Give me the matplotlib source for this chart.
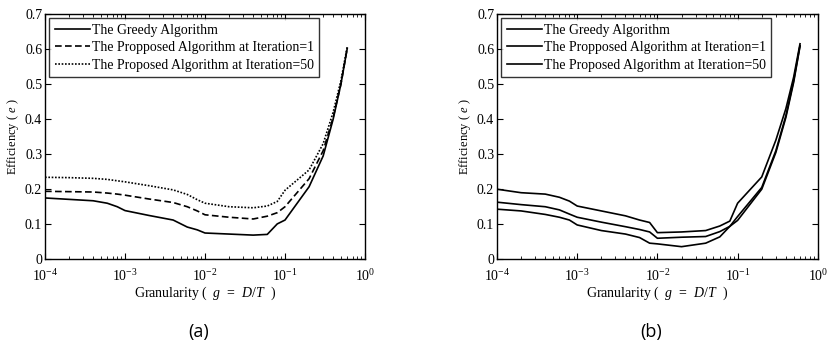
import matplotlib
matplotlib.use("Agg")
import matplotlib.pyplot as plt
from matplotlib.ticker import LogLocator, NullFormatter

plt.rcParams["font.family"] = ["Liberation Serif", "DejaVu Serif"]
plt.rcParams["mathtext.fontset"] = "custom"
plt.rcParams["mathtext.rm"] = "Liberation Serif"
plt.rcParams["mathtext.it"] = "Liberation Serif:italic"

granularity = [1e-4, 2e-4, 4e-4, 6e-4, 8e-4, 1e-3, 2e-3, 4e-3, 6e-3, 8e-3,
               1e-2, 2e-2, 4e-2, 6e-2, 8e-2, 1e-1, 2e-1, 3e-1, 4e-1, 5e-1, 6e-1]

labels = ["The Greedy Algorithm",
          "The Propposed Algorithm at Iteration=1",
          "The Proposed Algorithm at Iteration=50"]

# panel (a)
greedy_a = [0.175, 0.171, 0.167, 0.160, 0.150, 0.139, 0.125, 0.112, 0.092, 0.084, 0.075,
            0.072, 0.069, 0.071, 0.101, 0.112, 0.207, 0.295, 0.400, 0.500, 0.602]
iter1_a = [0.194, 0.193, 0.192, 0.189, 0.186, 0.183, 0.172, 0.162, 0.150, 0.138, 0.127,
           0.120, 0.115, 0.123, 0.133, 0.150, 0.230, 0.310, 0.405, 0.500, 0.603]
iter50_a = [0.234, 0.233, 0.231, 0.228, 0.224, 0.221, 0.210, 0.198, 0.185, 0.170, 0.160,
            0.150, 0.147, 0.152, 0.165, 0.197, 0.255, 0.330, 0.420, 0.510, 0.607]

# panel (b)
greedy_b = [0.143, 0.138, 0.128, 0.120, 0.112, 0.098, 0.082, 0.072, 0.062, 0.046, 0.044,
            0.036, 0.046, 0.064, 0.094, 0.111, 0.200, 0.305, 0.405, 0.505, 0.608]
iter1_b = [0.163, 0.156, 0.150, 0.141, 0.129, 0.120, 0.106, 0.093, 0.085, 0.078, 0.060,
           0.063, 0.065, 0.079, 0.094, 0.122, 0.205, 0.310, 0.410, 0.510, 0.610]
iter50_b = [0.200, 0.190, 0.186, 0.177, 0.166, 0.152, 0.138, 0.124, 0.112, 0.105, 0.076,
            0.078, 0.082, 0.095, 0.109, 0.160, 0.235, 0.340, 0.430, 0.520, 0.615]

fig = plt.figure(figsize=(8.29, 3.46), dpi=100)
ax_a = fig.add_axes([0.0543, 0.2506, 0.386, 0.709])
ax_b = fig.add_axes([0.5995, 0.2506, 0.387, 0.709])


def style_axes(ax):
    ax.set_xscale("log")
    ax.set_xlim(1e-4, 1)
    ax.set_ylim(0, 0.7)
    ax.set_yticks([0, 0.1, 0.2, 0.3, 0.4, 0.5, 0.6, 0.7])
    ax.set_yticklabels(["0", "0.1", "0.2", "0.3", "0.4", "0.5", "0.6", "0.7"])
    ax.xaxis.set_major_locator(LogLocator(base=10, numticks=10))
    ax.xaxis.set_minor_locator(LogLocator(base=10, subs=range(2, 10), numticks=10))
    ax.xaxis.set_minor_formatter(NullFormatter())
    ax.tick_params(which="both", direction="in", top=True, right=True, labelsize=10)
    ax.tick_params(axis="x", pad=6)
    ax.tick_params(axis="y", pad=2)
    ax.tick_params(which="major", length=4, width=0.8)
    ax.tick_params(which="minor", length=2, width=0.6)
    for s in ax.spines.values():
        s.set_linewidth(1.0)
    ax.set_xlabel("Granularity (  $g$  =  $D/T$  )", fontsize=10, labelpad=1)
    ax.set_ylabel("Efficiency ( $e$ )", fontsize=9, labelpad=3)


for ax in (ax_a, ax_b):
    style_axes(ax)

ax_a.plot(granularity, greedy_a, color="black", lw=1.2, ls="-", label=labels[0])
ax_a.plot(granularity, iter1_a, color="black", lw=1.2, ls=(0, (4, 2)), label=labels[1])
ax_a.plot(granularity, iter50_a, color="black", lw=1.2, ls=(0, (1, 1)), label=labels[2])

ax_b.plot(granularity, greedy_b, color="black", lw=1.2, label=labels[0])
ax_b.plot(granularity, iter1_b, color="black", lw=1.2, label=labels[1])
ax_b.plot(granularity, iter50_b, color="black", lw=1.2, label=labels[2])

for ax in (ax_a, ax_b):
    leg = ax.legend(loc="upper left", fontsize=9.9, frameon=True, fancybox=False,
                    handlelength=2.6, handletextpad=0.1, borderpad=0.4,
                    labelspacing=0.33, borderaxespad=0.3)
    leg.get_frame().set_edgecolor("black")
    leg.get_frame().set_linewidth(1.0)

fig.text(0.239, 0.025, "(a)", fontsize=13, family="Open Sans", ha="center")
fig.text(0.785, 0.025, "(b)", fontsize=13, family="Open Sans", ha="center")

fig.savefig("out.png", dpi=100)
